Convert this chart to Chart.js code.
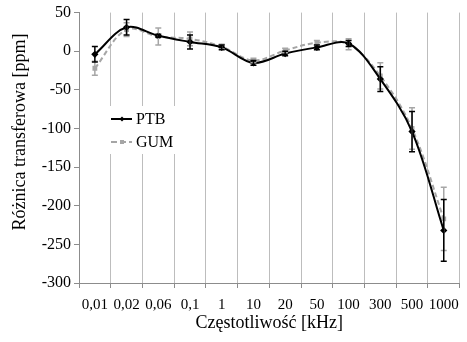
<!DOCTYPE html>
<html>
<head>
<meta charset="utf-8">
<script src="https://cdn.jsdelivr.net/npm/chart.js@4.4.1/dist/chart.umd.min.js"></script>
<style>
  html, body { margin: 0; padding: 0; background: #fff; }
  #wrap { width: 467px; height: 342px; }
</style>
</head>
<body>
<div id="wrap"><canvas id="transfer_chart"></canvas></div>
<script>
// frequency categories and values (ppm)
const freqLabels = ["0,01", "0,02", "0,06", "0,1", "1", "10", "20", "50", "100", "300", "500", "1000"];
const ptbValues = [-4, 31, 20, 12, 5, -15, -3, 5, 10, -36, -104, -232];
const ptbErrors = [10, 10, 2, 9, 3, 3, 3, 3, 4, 16, 26, 40];
const gumValues = [-22, 28, 19, 16, 6, -12, 1, 11, 9, -32, -100, -217];
const gumErrors = [9, 9, 11, 9, 3, 3, 3, 3, 7, 17, 27, 41];
const yTicks = [50, 0, -50, -100, -150, -200, -250, -300];

const serif = "'Liberation Serif', 'Times New Roman', serif";
const gumGrey = "#a6a6a6";

// error bars drawn with the chart's own scales
const errorBars = {
    id: "errorBars",
    afterDatasetsDraw(chart) {
        const ctx = chart.ctx;
        const x = chart.scales.x;
        const y = chart.scales.y;
        const sets = [[gumValues, gumErrors, gumGrey], [ptbValues, ptbErrors, "#000"]];
        ctx.save();
        ctx.lineWidth = 1.5;
        for (const [vals, errs, col] of sets) {
            ctx.strokeStyle = col;
            for (let i = 0; i < vals.length; i++) {
                const px = x.getPixelForValue(i);
                const top = y.getPixelForValue(vals[i] + errs[i]);
                const bot = y.getPixelForValue(vals[i] - errs[i]);
                ctx.beginPath();
                ctx.moveTo(px, top); ctx.lineTo(px, bot);
                ctx.moveTo(px - 3, top); ctx.lineTo(px + 3, top);
                ctx.moveTo(px - 3, bot); ctx.lineTo(px + 3, bot);
                ctx.stroke();
            }
        }
        ctx.restore();
    }
};

// legend sitting inside the plot, on a white box
const innerLegend = {
    id: "innerLegend",
    afterDraw(chart) {
        const ctx = chart.ctx;
        const ds = chart.data.datasets;
        ctx.save();
        ctx.fillStyle = "#fff";
        ctx.fillRect(107, 106, 70, 48);
        const rows = [[ds[0], 119, []], [ds[1], 142, [6, 3]]];
        for (const [d, ly, dash] of rows) {
            ctx.strokeStyle = d.borderColor;
            ctx.lineWidth = 2;
            ctx.setLineDash(dash);
            ctx.beginPath();
            ctx.moveTo(111, ly); ctx.lineTo(132, ly);
            ctx.stroke();
            ctx.setLineDash([]);
            ctx.fillStyle = d.pointBackgroundColor;
            ctx.beginPath();
            if (d.pointStyle === "rectRot") {
                ctx.moveTo(122, ly - 2.5); ctx.lineTo(124.5, ly); ctx.lineTo(122, ly + 2.5); ctx.lineTo(119.5, ly);
            } else {
                ctx.rect(120, ly - 2, 4, 4);
            }
            ctx.fill();
            ctx.fillStyle = "#000";
            ctx.font = "16px " + serif;
            ctx.textBaseline = "middle";
            ctx.fillText(d.label, 136, ly + 1);
        }
        ctx.restore();
    }
};

const config = {
    type: "line",
    data: {
        labels: freqLabels,
        datasets: [
            {
                label: "PTB",
                data: ptbValues,
                borderColor: "#000",
                borderWidth: 2,
                pointStyle: "rectRot",
                pointRadius: 2.2,
                pointBackgroundColor: "#000",
                pointBorderColor: "#000",
                tension: 0.35
            },
            {
                label: "GUM",
                data: gumValues,
                borderColor: gumGrey,
                borderWidth: 2,
                borderDash: [5, 3],
                pointStyle: "rect",
                pointRadius: 2,
                pointBackgroundColor: gumGrey,
                pointBorderColor: gumGrey,
                tension: 0.35
            }
        ]
    },
    options: {
        responsive: true,
        maintainAspectRatio: false,
        animation: false,
        devicePixelRatio: 1,
        layout: { padding: { top: 11, right: 0, bottom: 0, left: 0 } },
        plugins: {
            legend: { display: false },
            tooltip: { enabled: false }
        },
        scales: {
            x: {
                type: "category",
                offset: true,
                afterFit(scale) { scale.height = 59; },
                grid: {
                    offset: true,
                    color: "#bdbdbd",
                    tickColor: "#8c8c8c",
                    tickLength: 5,
                    lineWidth: 1
                },
                border: { color: "#8c8c8c" },
                ticks: {
                    color: "#000",
                    font: { family: serif, size: 15 },
                    padding: 8,
                    maxRotation: 0,
                    autoSkip: false
                },
                title: {
                    display: true,
                    text: "Częstotliwość [kHz]",
                    color: "#000",
                    font: { family: serif, size: 18 },
                    padding: { top: 0, bottom: 8 }
                }
            },
            y: {
                min: -300,
                max: 50,
                afterFit(scale) { scale.width = 79; },
                afterBuildTicks(scale) { scale.ticks = yTicks.map(v => ({ value: v })); },
                grid: {
                    drawOnChartArea: false,
                    color: "#8c8c8c",
                    tickLength: 5
                },
                border: { color: "#8c8c8c" },
                ticks: {
                    color: "#000",
                    font: { family: serif, size: 16 },
                    padding: 3
                },
                title: {
                    display: true,
                    text: "       Różnica transferowa [ppm]",
                    color: "#000",
                    font: { family: serif, size: 18 },
                    padding: { top: 9, bottom: 0 }
                }
            }
        }
    },
    plugins: [errorBars, innerLegend]
};

const canvas = document.getElementById("transfer_chart");
let transferChart = new Chart(canvas, config);
</script>
</body>
</html>
